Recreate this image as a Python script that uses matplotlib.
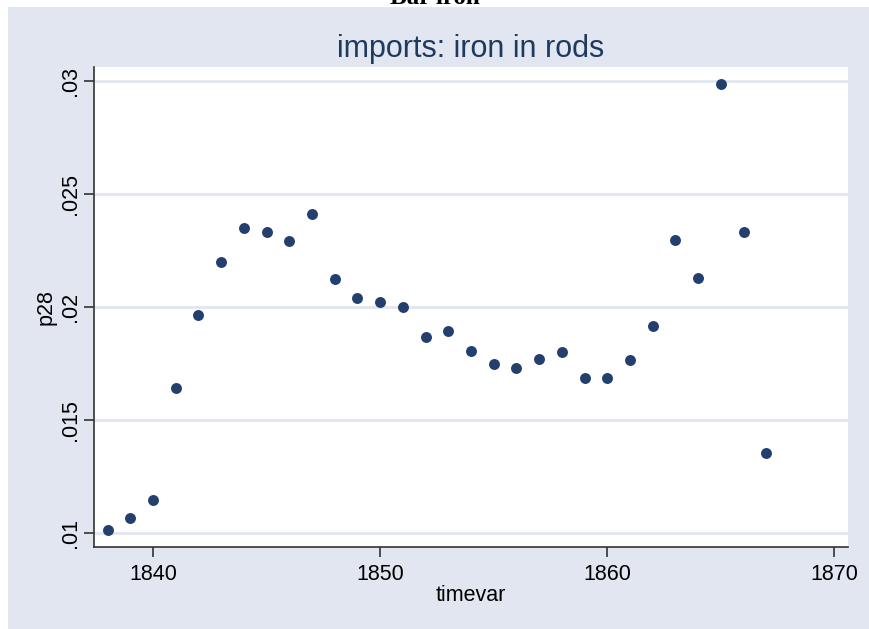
import matplotlib
matplotlib.use("Agg")
import matplotlib.pyplot as plt
from matplotlib.patches import Rectangle

# data
years = list(range(1838, 1868))
p28 = [
    0.01013, 0.01066, 0.01146, 0.01642, 0.01965, 0.02199, 0.02350, 0.02332,
    0.02292, 0.02412, 0.02124, 0.02040, 0.02022, 0.02000, 0.01867, 0.01894,
    0.01804, 0.01749, 0.01729, 0.01770, 0.01801, 0.01685, 0.01685, 0.01765,
    0.01915, 0.02298, 0.02128, 0.02987, 0.02333, 0.01355,
]
x_ticks = [1840, 1850, 1860, 1870]
y_ticks = [0.01, 0.015, 0.02, 0.025, 0.03]
y_tick_labels = [".01", ".015", ".02", ".025", ".03"]

W, H = 870, 629
BG = "#e1e6f0"
NAVY = "#233f6e"

plt.rcParams["font.family"] = ["Liberation Sans", "DejaVu Sans"]

fig = plt.figure(figsize=(W / 100, H / 100), dpi=100, facecolor="white")

# outer graph region, kept behind the axes
fig.patches.append(Rectangle((8 / W, 0), 1 - 8 / W, 1 - 7 / H,
                             transform=fig.transFigure, facecolor=BG,
                             edgecolor="none", zorder=-10))

# title of the page above, clipped by the top edge as in the original
fig.text(0.5, 1 - 4 / H, "Bar iron", ha="center", va="baseline",
         family="Liberation Serif", fontsize=18, fontweight="bold", color="black")

ax = fig.add_axes([94 / W, 1 - 547 / H, (848 - 94) / W, (547 - 67) / H])
ax.set_facecolor("white")

ax.scatter(years, p28, s=62, color=NAVY, zorder=3, linewidths=0)

ax.set_xlim(1837.4, 1870.6)
ax.set_ylim(0.00938, 0.03062)

ax.set_xticks(x_ticks)
ax.set_xticklabels([str(t) for t in x_ticks], fontsize=15.5)
ax.set_yticks(y_ticks)
ax.set_yticklabels(y_tick_labels, fontsize=15.5, rotation=90, va="center")

ax.grid(axis="y", color=BG, linewidth=2)
ax.set_axisbelow(True)

for side in ["top", "right"]:
    ax.spines[side].set_visible(False)
for side in ["left", "bottom"]:
    ax.spines[side].set_color("#333333")
    ax.spines[side].set_linewidth(1.2)
ax.tick_params(direction="out", length=7, width=1.2, color="#333333")
ax.tick_params(axis="x", pad=5)
ax.tick_params(axis="y", pad=2)

ax.set_xlabel("timevar", fontsize=15.5, labelpad=0)
ax.set_ylabel("p28", fontsize=15.5, labelpad=3)
ax.set_title("imports: iron in rods", fontsize=22, color="#1e3a5f", pad=7)

fig.savefig("out.png", dpi=100, facecolor=fig.get_facecolor())
